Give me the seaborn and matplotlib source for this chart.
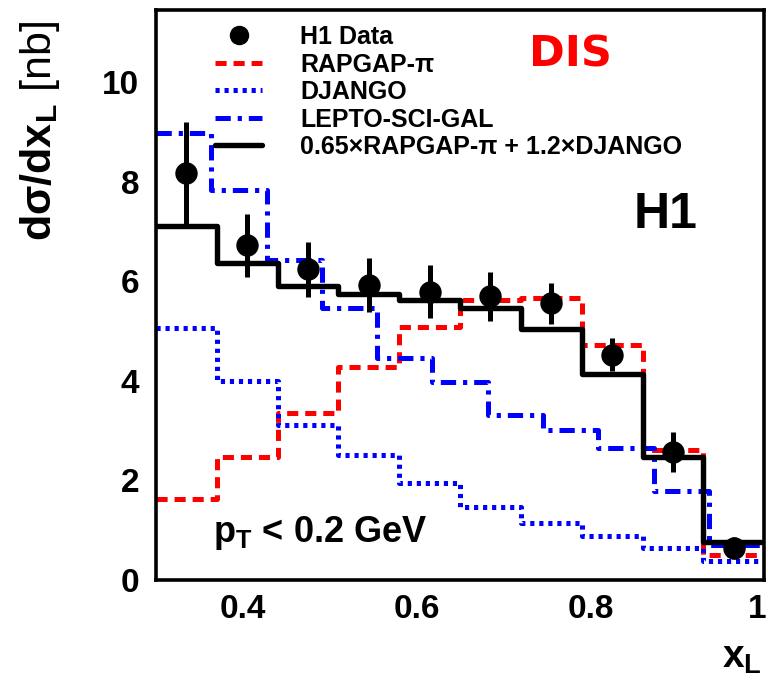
import numpy as np
import pandas as pd
import matplotlib
matplotlib.use("Agg")
import matplotlib.pyplot as plt
from matplotlib.lines import Line2D
from matplotlib.legend_handler import HandlerLine2D
from matplotlib.ticker import MultipleLocator
from matplotlib.transforms import ScaledTranslation
import seaborn as sns

# ---------------- data ----------------
edges10 = [0.30, 0.37, 0.44, 0.51, 0.58, 0.65, 0.72, 0.79, 0.86, 0.93, 1.00]
edges11 = [0.300, 0.3636, 0.4273, 0.4909, 0.5545, 0.6182, 0.6818,
           0.7455, 0.8091, 0.8727, 0.9364, 1.000]

data_x = [0.335, 0.405, 0.475, 0.545, 0.615, 0.685, 0.755, 0.825, 0.895, 0.965]
data_y = [8.17, 6.72, 6.24, 5.92, 5.79, 5.70, 5.56, 4.52, 2.56, 0.64]
data_err = [1.03, 0.64, 0.55, 0.54, 0.53, 0.49, 0.41, 0.33, 0.40, 0.22]

rapgap = [1.62, 2.47, 3.36, 4.27, 5.09, 5.62, 5.66, 4.71, 2.61, 0.49]
django = [5.07, 3.99, 3.12, 2.50, 1.94, 1.47, 1.14, 0.87, 0.64, 0.38]
combined = [7.12, 6.37, 5.91, 5.75, 5.62, 5.47, 5.04, 4.14, 2.46, 0.75]
lepto = [8.99, 7.84, 6.42, 5.47, 4.46, 3.97, 3.31, 3.00, 2.65, 1.78, 0.69]

legend_labels = ["H1 Data", "RAPGAP-π", "DJANGO", "LEPTO-SCI-GAL",
                 "0.65×RAPGAP-π + 1.2×DJANGO"]
x_ticks = [0.4, 0.6, 0.8, 1.0]
x_ticklabels = ["0.4", "0.6", "0.8", "1"]
y_ticks = [0, 2, 4, 6, 8, 10]

# ---------------- style ----------------
sns.set_theme(style="white")
plt.rcParams["font.family"] = ["Liberation Sans", "DejaVu Sans"]
plt.rcParams["text.color"] = "black"
plt.rcParams["axes.labelcolor"] = "black"
plt.rcParams["xtick.color"] = "black"
plt.rcParams["ytick.color"] = "black"
plt.rcParams["mathtext.fontset"] = "custom"
plt.rcParams["mathtext.bf"] = "Liberation Sans:bold"
plt.rcParams["mathtext.rm"] = "Liberation Sans"
plt.rcParams["lines.scale_dashes"] = False

fig = plt.figure(figsize=(7.68, 6.82), dpi=100)
ax = fig.add_axes([0.203, 0.150, 0.792, 0.835])

RED = "#ff0000"
BLUE = "#0000ff"
LW = 3.6
d_red = (8, 5)
d_dot = (3, 3.5)
d_dashdot = (11, 5, 3, 5)

def centers(e):
    e = np.asarray(e)
    return (e[:-1] + e[1:]) / 2

sns.histplot(x=centers(edges10), weights=rapgap, bins=edges10, element="step",
             fill=False, color=RED, linewidth=LW, dashes=d_red, ax=ax, zorder=2)
sns.histplot(x=centers(edges10), weights=django, bins=edges10, element="step",
             fill=False, color=BLUE, linewidth=LW, dashes=d_dot, ax=ax, zorder=2)
sns.histplot(x=centers(edges11), weights=lepto, bins=edges11, element="step",
             fill=False, color=BLUE, linewidth=LW, dashes=d_dashdot, ax=ax, zorder=2)
sns.histplot(x=centers(edges10), weights=combined, bins=edges10, element="step",
             fill=False, color="black", linewidth=LW + 0.3, ax=ax, zorder=3)

ax.errorbar(data_x, data_y, yerr=data_err, fmt="none", ecolor="black",
            elinewidth=3.6, capsize=0, zorder=4)
sns.scatterplot(x=data_x, y=data_y, color="black", s=260, edgecolor="black",
                linewidth=0, zorder=5, ax=ax)

ax.set_xlim(0.3, 1.0)
ax.set_ylim(0, 11.45)
ax.set_xticks(x_ticks)
ax.set_xticklabels(x_ticklabels)
ax.set_yticks(y_ticks)
ax.xaxis.set_minor_locator(MultipleLocator(0.05))
ax.yaxis.set_minor_locator(MultipleLocator(0.5))
ax.tick_params(axis="both", which="both", direction="in", top=False, right=False,
               labelsize=24, width=3, color="black", labelcolor="black")
ax.tick_params(axis="y", which="major", length=19, pad=12)
ax.tick_params(axis="y", which="minor", length=9.5)
ax.tick_params(axis="x", which="major", length=16.5, pad=10)
ax.tick_params(axis="x", which="minor", length=7.5)
for lab in ax.get_xticklabels() + ax.get_yticklabels():
    lab.set_fontweight("bold")
last = ax.get_xticklabels()[-1]
last.set_transform(last.get_transform() + ScaledTranslation(-5 / 72, 0, fig.dpi_scale_trans))
for sp in ax.spines.values():
    sp.set_visible(True)
    sp.set_linewidth(2.6)
    sp.set_color("black")

ax.set_ylabel("dσ/dx$_\\mathbf{L}$ $\\mathrm{[nb]}$", fontsize=31, fontweight="bold")
ax.yaxis.set_label_coords(-0.155, 0.789)
ax.set_xlabel("x$_\\mathbf{L}$", fontsize=28, fontweight="bold", loc="right")
ax.xaxis.set_label_coords(0.997, -0.106)

ax.text(0.682, 0.923, "DIS", transform=ax.transAxes, color=RED, fontsize=31,
        fontweight="bold", family="DejaVu Sans", ha="center", va="center")
ax.text(0.838, 0.64, "H1", transform=ax.transAxes, color="black", fontsize=36,
        fontweight="bold", ha="center", va="center")
ax.text(0.094, 0.067, "p$_\\mathbf{T}$ < 0.2 GeV", transform=ax.transAxes,
        color="black", fontsize=26, fontweight="bold", ha="left", va="baseline")


class RightMarkerHandler(HandlerLine2D):
    def get_xdata(self, legend, xdescent, ydescent, width, height, fontsize):
        xdata = np.array([-xdescent, -xdescent + width])
        xdata_marker = np.array([-xdescent + width])
        return xdata, xdata_marker


handles = [
    Line2D([], [], marker="o", ls="none", color="black", markersize=13),
    Line2D([], [], color=RED, lw=LW, dashes=d_red),
    Line2D([], [], color=BLUE, lw=LW, dashes=d_dot),
    Line2D([], [], color=BLUE, lw=LW, dashes=d_dashdot),
    Line2D([], [], color="black", lw=LW + 0.3),
]
leg = ax.legend(handles, legend_labels, loc="upper left",
                bbox_to_anchor=(0.097, 0.974), frameon=False, fontsize=18,
                handlelength=1.9, handletextpad=1.5, labelspacing=0.14,
                borderaxespad=0, borderpad=0,
                handler_map={handles[0]: RightMarkerHandler()})
for t in leg.get_texts():
    t.set_fontweight("bold")

fig.savefig("out.png", dpi=100)
